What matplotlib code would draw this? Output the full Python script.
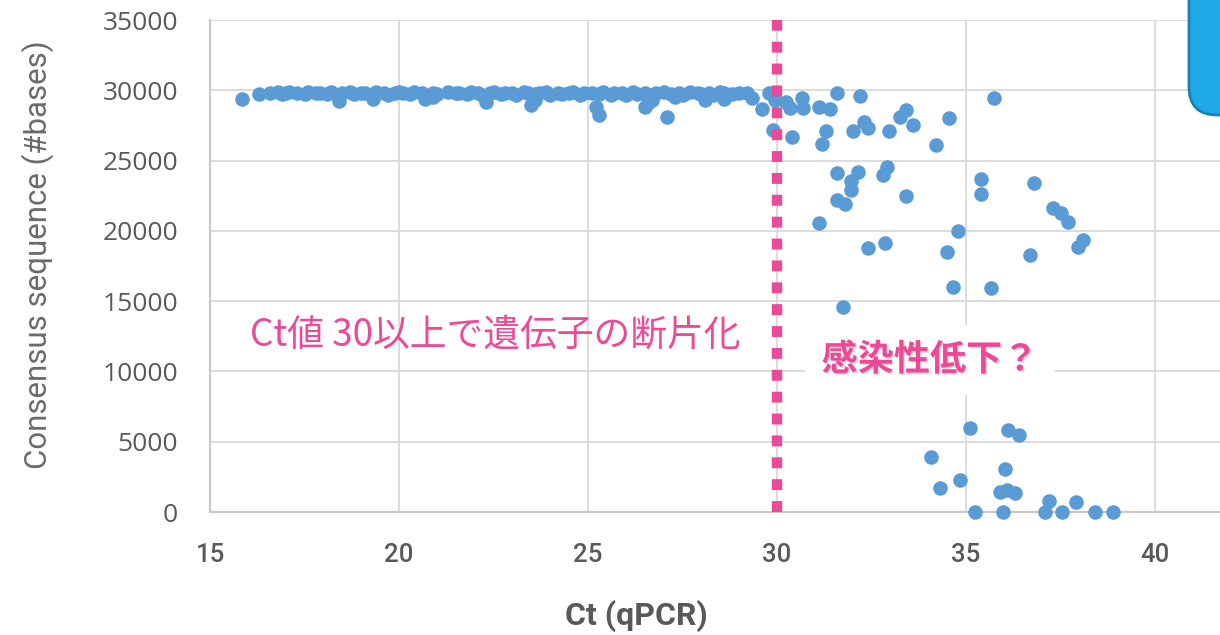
import matplotlib.pyplot as plt
from matplotlib.patches import FancyBboxPatch
from matplotlib.transforms import IdentityTransform
import matplotlib.patheffects as pe

# dense plateau of full-length genomes (Ct < 30)
band_ct = [16.6, 16.8, 16.9, 17.0, 17.1, 17.3, 17.5, 17.6, 17.8, 17.9, 18.1, 18.2, 18.4, 18.5,
           18.7, 18.8, 19.0, 19.1, 19.3, 19.4, 19.6, 19.7, 19.9, 20.0, 20.1, 20.3, 20.4, 20.6,
           20.7, 20.9, 21.0, 21.3, 21.5, 21.6, 21.8, 21.9, 22.1, 22.2, 22.4, 22.5, 22.7, 22.8,
           23.0, 23.1, 23.3, 23.4, 23.6, 23.7, 23.9, 24.0, 24.2, 24.3, 24.5, 24.6, 24.8, 24.9,
           25.1, 25.3, 25.4, 25.6, 25.7, 25.9, 26.0, 26.2, 26.3, 26.5, 26.7, 26.8, 27.0, 27.2,
           27.4, 27.5, 27.7, 27.9, 28.0, 28.2, 28.3, 28.5, 28.6, 28.8, 29.0]
band_bases = [29800, 29850, 29750, 29800, 29850, 29800, 29750, 29850, 29800, 29800, 29750, 29850,
              29700, 29800, 29850, 29750, 29800, 29800, 29750, 29850, 29800, 29700, 29800, 29850,
              29800, 29750, 29850, 29800, 29700, 29800, 29750, 29850, 29800, 29800, 29750, 29850,
              29800, 29700, 29800, 29850, 29750, 29800, 29800, 29700, 29850, 29800, 29750, 29800,
              29850, 29700, 29800, 29750, 29800, 29850, 29700, 29800, 29800, 29750, 29850, 29700,
              29800, 29800, 29650, 29850, 29750, 29800, 29700, 29800, 29850, 29750, 29800, 29700,
              29850, 29800, 29750, 29800, 29700, 29850, 29800, 29750, 29800]

dip_ct = [15.85, 16.3, 18.4, 19.3, 20.7, 20.9, 22.3, 23.5, 23.6, 25.2, 25.3, 26.5, 26.6, 26.7,
          27.1, 27.3, 28.1, 28.6, 29.2, 29.35, 29.6, 29.8]
dip_bases = [29400, 29750, 29250, 29350, 29350, 29500, 29200, 28950, 29300, 28800, 28250, 28800,
             29100, 29300, 28100, 29550, 29300, 29350, 29790, 29450, 28700, 29790]

# scattered samples around and above Ct 30
high_ct = [29.95, 30.25, 30.35, 30.65, 30.7, 31.1, 31.4, 31.6, 32.2, 29.9, 30.4, 31.2, 31.3,
           32.0, 32.3, 32.4, 32.95, 33.25, 33.4, 33.6, 34.2, 34.55, 35.75, 31.6, 32.15, 31.95,
           31.95, 32.8, 32.9, 31.6, 31.8, 33.4, 31.1, 34.8, 35.4, 35.4, 36.8, 32.4, 32.85, 34.5,
           38.1, 37.95, 37.3, 37.5, 37.7, 36.7, 34.65, 35.65, 31.75, 35.1, 36.1, 36.4, 34.07,
           36.03, 34.85, 34.3, 35.9, 36.08, 36.3, 37.2, 37.9, 35.25, 35.98, 37.1, 37.55, 38.4, 38.9]
high_bases = [29300, 29160, 28720, 29440, 28720, 28800, 28650, 29790, 29580, 27160, 26670, 26170,
              27090, 27090, 27730, 27300, 27090, 28090, 28580, 27520, 26100, 28020, 29440, 24100,
              24170, 23530, 22900, 23960, 24530, 22180, 21900, 22470, 20550, 19980, 23680, 22610,
              23390, 18770, 19130, 18490, 19340, 18840, 21610, 21260, 20620, 18270, 16000, 15930,
              14580, 5970, 5830, 5470, 3910, 3060, 2280, 1710, 1420, 1560, 1350, 780, 710,
              0, 0, 0, 0, 0, 0]

ct = band_ct + dip_ct + high_ct
bases = band_bases + dip_bases + high_bases

pink = '#EC4A96'
blue = '#5B9BD5'
gray = '#595959'

fig = plt.figure(figsize=(12.2, 6.35), dpi=100)
ax = fig.add_axes([210 / 1220, 123 / 635, 1010 / 1220, 492 / 635])

ax.scatter(ct, bases, s=110, color=blue, linewidths=0, zorder=3, clip_on=False)
ax.axvline(30, color=pink, lw=7.5, linestyle=(0, (1.05, 1.05)),
           solid_capstyle='butt', dash_capstyle='butt', zorder=4)

ax.set_xlim(15, 15 + 1010 / 37.8)
ax.set_ylim(0, 35000)
ax.set_xticks([15, 20, 25, 30, 35, 40])
ax.set_yticks(range(0, 35001, 5000))
ax.grid(True, color='#D9D9D9', lw=1.3, zorder=0)
ax.set_axisbelow(True)
for side in ['top', 'right']:
    ax.spines[side].set_visible(False)
for side in ['left', 'bottom']:
    ax.spines[side].set_color('#C8C8C8')
    ax.spines[side].set_linewidth(1.5)
ax.tick_params(length=0)
ax.tick_params(axis='y', pad=23)
ax.tick_params(axis='x', pad=22)
for lab in ax.get_yticklabels():
    lab.set_fontfamily('Open Sans')
    lab.set_fontsize(19)
    lab.set_color(gray)
for lab in ax.get_xticklabels():
    lab.set_fontfamily('Roboto')
    lab.set_fontsize(18.5)
    lab.set_fontweight('medium')
    lab.set_color(gray)

fig.text(636 / 1220, 1 - 616 / 635, 'Ct (qPCR)', ha='center', va='center',
         fontsize=23, fontweight='bold', color=gray, family='Roboto')
fig.text(38 / 1220, 1 - 255 / 635, 'Consensus sequence (#bases)', ha='center', va='center',
         rotation=90, fontsize=22.5, color='#6b6b6b', family='Roboto')

fig.text(495 / 1220, 1 - 335 / 635, 'Ct値 30以上で遺伝子の断片化', ha='center', va='center',
         fontsize=26.5, color=pink, family=['Noto Sans CJK JP', 'DejaVu Sans'], zorder=5)
t = fig.text(930 / 1220, 1 - 360 / 635, '感染性低下？', ha='center', va='center',
             fontsize=26, fontweight='bold', color=pink, family=['Noto Sans CJK JP', 'DejaVu Sans'],
             bbox=dict(boxstyle='square,pad=0.45', fc='white', ec='none'), zorder=5)
t.set_path_effects([pe.withSimplePatchShadow(offset=(1.2, -1.2), shadow_rgbFace='#aaaaaa', alpha=0.4)])

# corner of a callout box cut off at the top right
box = FancyBboxPatch((1189, 520), 120, 150, boxstyle='round,pad=0,rounding_size=28',
                     fc='#1CA9E6', ec='#1781B5', lw=2, transform=IdentityTransform())
fig.patches.append(box)

fig.savefig('out.png', dpi=100)
